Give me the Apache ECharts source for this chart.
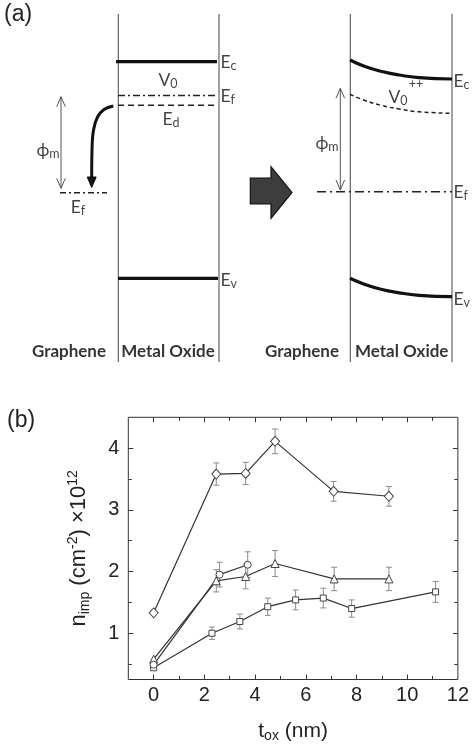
<!DOCTYPE html>
<html>
<head>
<meta charset="utf-8">
<script src="https://cdn.jsdelivr.net/npm/echarts@6/dist/echarts.min.js"></script>
<style>
html,body{margin:0;padding:0;background:#fff;}
#main{width:472px;height:747px;}
</style>
</head>
<body>
<div id="main"></div>
<script>
// ---------- (b) data: impurity density vs oxide thickness ----------
const diamondX = [0, 2.47, 3.63, 4.79, 7.1, 9.28];
const diamondY = [1.33, 3.58, 3.59, 4.11, 3.30, 3.22];
const diamondErr = [0, 0.18, 0.18, 0.20, 0.16, 0.16];

const triangleX = [0, 2.47, 3.63, 4.79, 7.12, 9.28];
const triangleY = [0.58, 1.85, 1.92, 2.13, 1.88, 1.88];
const triangleErr = [0, 0.18, 0.20, 0.21, 0.19, 0.19];

const circleX = [0, 2.6, 3.71];
const circleY = [0.49, 1.95, 2.11];
const circleErr = [0, 0.20, 0.21];

const squareX = [0, 2.3, 3.4, 4.5, 5.6, 6.69, 7.81, 11.12];
const squareY = [0.44, 1.0, 1.19, 1.43, 1.54, 1.57, 1.40, 1.67];
const squareErr = [0.03, 0.10, 0.12, 0.14, 0.16, 0.16, 0.14, 0.17];

const xTickLabels = [0, 2, 4, 6, 8, 10, 12];
const xMinorTicks = [1, 3, 5, 7, 9, 11];
const yTickLabels = [1, 2, 3, 4];
const yMinorTicks = [0.5, 1.5, 2.5, 3.5];

// ---------- (a) schematic band diagram (schematic units: x across, y downward energy axis) ----------
const leftEc = [[116, 61.7], [217, 61.7]];
const leftEfOxide = [[118, 95.5], [218, 95.5]];
const leftEd = [[118, 105.3], [218, 105.3]];
const leftEv = [[118, 278.3], [218, 278.3]];
const leftEfGraphene = [[60, 192.7], [107, 192.7]];
const rightEc = [[350, 60], [365, 66.5], [382, 71.5], [399, 75], [419, 77.6], [452, 79]];
const rightV0 = [[350, 94.3], [365, 100.5], [382, 105.5], [399, 109], [419, 111.8], [452, 113.3]];
const rightEf = [[317, 191.7], [452, 191.7]];
const rightEv = [[350, 278.3], [365, 284.5], [382, 289.5], [399, 292.8], [419, 295.3], [452, 296.7]];
const interfaceXs = [118.3, 219, 350.3, 452];
const interfaceSpan = [14, 362];
const phiArrows = [[61, 96.7, 188.3], [340.3, 88.3, 190]];
const transferArrow = [[113.3, 106], [104, 109.5], [97.5, 117], [93.5, 130], [92, 150], [91.7, 178]];
const transferHead = [[87.2, 177], [96.2, 177], [91.7, 187.5]];
const blockArrow = [[250.3, 178], [271, 178], [271, 166.7], [292, 192.4], [271, 218.3], [271, 204], [250.3, 204]];

const sideLabels = [
  [220.5, 62, 'E{s|c}'], [220.5, 96.5, 'E{s|f}'], [220.5, 280, 'E{s|v}'],
  [453.5, 81, 'E{s|c}'], [453.5, 192.5, 'E{s|f}'], [453.5, 299, 'E{s|v}']
];
const centerLabels = [
  [168, 80, 'V{s|0}'], [171, 119, 'E{s|d}'], [78, 207, 'E{s|f}'],
  [48, 150, 'ϕ{s|m}'], [327, 143, 'ϕ{s|m}'], [398, 97, 'V{s|0}'], [416, 84, '{p|++}']
];
const regionLabels = [
  [69, 351.7, 'Graphene'], [168, 351.7, 'Metal Oxide'],
  [302, 351.7, 'Graphene'], [401.7, 351.7, 'Metal Oxide']
];

const chart = echarts.init(document.getElementById('main'), null, {renderer: 'canvas'});

const FONT_A = 'Lato, "DejaVu Sans", sans-serif';
const FONT_B = '"Liberation Sans", Arial, sans-serif';

function diag(data, style, extra) {
  return Object.assign({
    type: 'line', xAxisIndex: 0, yAxisIndex: 0, data: data, symbol: 'none',
    lineStyle: style, silent: true, animation: false, z: 2
  }, extra || {});
}
const bandStyle = {color: '#111', width: 3.2};
const dashDot = {color: '#222', width: 1.5, type: [7, 3, 2, 3]};
const dashed = {color: '#222', width: 1.5, type: [6, 4]};
const ifaceStyle = {color: '#555', width: 1.1};

const diagSeries = [];
interfaceXs.forEach(x => diagSeries.push(diag([[x, interfaceSpan[0]], [x, interfaceSpan[1]]], ifaceStyle)));
diagSeries.push(diag(leftEc, bandStyle));
diagSeries.push(diag(leftEfOxide, dashDot));
diagSeries.push(diag(leftEd, dashed));
diagSeries.push(diag(leftEv, bandStyle));
diagSeries.push(diag(leftEfGraphene, {color: '#222', width: 1.5, type: [6, 3, 2, 3]}));
diagSeries.push(diag(rightEc, bandStyle, {smooth: 0.5}));
diagSeries.push(diag(rightV0, {color: '#222', width: 1.5, type: [4, 3]}, {smooth: 0.5}));
diagSeries.push(diag(rightEf, {color: '#222', width: 1.5, type: [9, 4, 2, 4]}));
diagSeries.push(diag(rightEv, bandStyle, {smooth: 0.5}));
phiArrows.forEach(a => {
  const x = a[0], t = a[1], b = a[2];
  const st = {color: '#555', width: 1};
  diagSeries.push(diag([[x, t], [x, b]], st));
  diagSeries.push(diag([[x - 4.3, t + 10], [x, t], [x + 4.3, t + 10]], st));
  diagSeries.push(diag([[x - 4.3, b - 10], [x, b], [x + 4.3, b - 10]], st));
});
diagSeries.push(diag(transferArrow, {color: '#111', width: 3}, {smooth: 0.4}));

function polygonSeries(points, style) {
  return {
    type: 'custom', xAxisIndex: 0, yAxisIndex: 0, silent: true, animation: false, z: 3,
    data: [[points[0][0], points[0][1]]],
    renderItem: function (params, api) {
      return {type: 'polygon', shape: {points: points.map(p => api.coord(p))}, style: style};
    }
  };
}
diagSeries.push(polygonSeries(transferHead, {fill: '#111', stroke: '#111', lineWidth: 1}));
diagSeries.push(polygonSeries(blockArrow, {fill: '#3d3d3d', stroke: '#111', lineWidth: 1.2}));

const richA = {
  s: {fontSize: 12.5, fontFamily: FONT_A, color: '#111', verticalAlign: 'bottom', lineHeight: 10},
  p: {fontSize: 12.5, fontFamily: FONT_A, color: '#111', lineHeight: 12},
  b: {fontSize: 17, fontFamily: FONT_A, fontWeight: 'bold', color: '#000'}
};
function textSeries(items, position) {
  return {
    type: 'scatter', xAxisIndex: 0, yAxisIndex: 0, symbolSize: 0, silent: true, animation: false, z: 5,
    data: items.map(d => ({value: [d[0], d[1]], name: d[2]})),
    label: {
      show: true, position: position, distance: 0,
      formatter: p => p.name,
      fontSize: 17.5, lineHeight: 20, fontFamily: FONT_A, color: '#111', rich: richA
    }
  };
}
diagSeries.push(textSeries(sideLabels, 'right'));
diagSeries.push(textSeries(centerLabels, 'inside'));
diagSeries.push(textSeries(regionLabels.map(d => [d[0], d[1], '{b|' + d[2] + '}']), 'inside'));

// ---------- (b) series ----------
function pairs(xs, ys) { return xs.map((x, i) => [x, ys[i]]); }
function errorBars(xs, ys, es) {
  return {
    type: 'custom', xAxisIndex: 1, yAxisIndex: 1, silent: true, animation: false, z: 1,
    data: xs.map((x, i) => [x, ys[i], es[i]]),
    encode: {x: 0, y: 1},
    renderItem: function (params, api) {
      const x = api.value(0), y = api.value(1), e = api.value(2);
      if (!e) return null;
      const hi = api.coord([x, y + e]), lo = api.coord([x, y - e]);
      const w = 3, st = {stroke: '#8a8a8a', lineWidth: 1};
      return {type: 'group', children: [
        {type: 'line', shape: {x1: hi[0], y1: hi[1], x2: lo[0], y2: lo[1]}, style: st},
        {type: 'line', shape: {x1: hi[0] - w, y1: hi[1], x2: hi[0] + w, y2: hi[1]}, style: st},
        {type: 'line', shape: {x1: lo[0] - w, y1: lo[1], x2: lo[0] + w, y2: lo[1]}, style: st}
      ]};
    }
  };
}
function markerLine(xs, ys, symbol, size) {
  return {
    type: 'line', xAxisIndex: 1, yAxisIndex: 1, data: pairs(xs, ys),
    symbol: symbol, symbolSize: size, showAllSymbol: true, silent: true, animation: false, z: 3,
    lineStyle: {color: '#333', width: 1.2},
    itemStyle: {color: '#fff', borderColor: '#444', borderWidth: 1}
  };
}
const chartSeries = [
  errorBars(squareX, squareY, squareErr),
  errorBars(triangleX, triangleY, triangleErr),
  errorBars(circleX, circleY, circleErr),
  errorBars(diamondX, diamondY, diamondErr),
  markerLine(squareX, squareY, 'rect', 6),
  markerLine(triangleX, triangleY, 'triangle', 8),
  markerLine(circleX, circleY, 'circle', 7),
  markerLine(diamondX, diamondY, 'diamond', [9, 10])
];

const tickStyle = {color: '#333', width: 1};
function xAx(position, ticks, len, labels, extra) {
  return Object.assign({
    type: 'value', gridIndex: 1, min: -1, max: 12, position: position,
    axisLine: {show: false, onZero: false},
    axisTick: {show: true, inside: true, length: len, customValues: ticks, lineStyle: tickStyle},
    axisLabel: labels ? {show: true, customValues: labels, fontSize: 20, color: '#222', fontFamily: FONT_B, margin: 6} : {show: false},
    splitLine: {show: false}
  }, extra || {});
}
function yAx(position, ticks, len, labels, extra) {
  return Object.assign({
    type: 'value', gridIndex: 1, min: 0.25, max: 4.5, position: position,
    axisLine: {show: false, onZero: false},
    axisTick: {show: true, inside: true, length: len, customValues: ticks, lineStyle: tickStyle},
    axisLabel: labels ? {show: true, customValues: labels, fontSize: 20, color: '#222', fontFamily: FONT_B, margin: 9} : {show: false},
    splitLine: {show: false}
  }, extra || {});
}

const option = {
  animation: false,
  backgroundColor: '#fff',
  title: [
    {text: '(a)', left: 4, top: 3, padding: 0, textStyle: {fontSize: 23, fontWeight: 'normal', fontFamily: FONT_B, color: '#222'}},
    {text: '(b)', left: 7, top: 409, padding: 0, textStyle: {fontSize: 23, fontWeight: 'normal', fontFamily: FONT_B, color: '#222'}}
  ],
  grid: [
    {left: 0, top: 0, width: 472, height: 370, show: false},
    {left: 128.3, top: 417.3, width: 333.2, height: 262.2, show: true, borderColor: '#333', borderWidth: 1, backgroundColor: 'transparent'}
  ],
  xAxis: [
    {type: 'value', gridIndex: 0, min: 0, max: 472, show: false},
    xAx('bottom', [0, 2, 4, 6, 8, 10], 5, xTickLabels, {
      name: 't{s|ox} (nm)', nameLocation: 'middle', nameGap: 40,
      nameTextStyle: {fontSize: 21, fontFamily: FONT_B, color: '#222', lineHeight: 24,
        rich: {s: {fontSize: 14, fontFamily: FONT_B, color: '#222', verticalAlign: 'bottom', lineHeight: 14}}}
    }),
    xAx('bottom', xMinorTicks, 3.5, null),
    xAx('top', [0, 2, 4, 6, 8, 10], 5, null),
    xAx('top', xMinorTicks, 3.5, null)
  ],
  yAxis: [
    {type: 'value', gridIndex: 0, min: 0, max: 370, inverse: true, show: false},
    yAx('left', yTickLabels, 5, yTickLabels, {
      name: 'n{s|imp} (cm{p|-2}) ×10{p|12}', nameLocation: 'middle', nameGap: 36, nameRotate: 90,
      nameTextStyle: {fontSize: 22, fontFamily: FONT_B, color: '#222', lineHeight: 26,
        rich: {
          s: {fontSize: 14, fontFamily: FONT_B, color: '#222', verticalAlign: 'bottom', lineHeight: 14},
          p: {fontSize: 14, fontFamily: FONT_B, color: '#222', verticalAlign: 'top', lineHeight: 14}
        }}
    }),
    yAx('left', yMinorTicks, 3.5, null),
    yAx('right', yTickLabels, 5, null),
    yAx('right', yMinorTicks, 3.5, null)
  ],
  series: diagSeries.concat(chartSeries)
};
chart.setOption(option);
</script>
</body>
</html>
